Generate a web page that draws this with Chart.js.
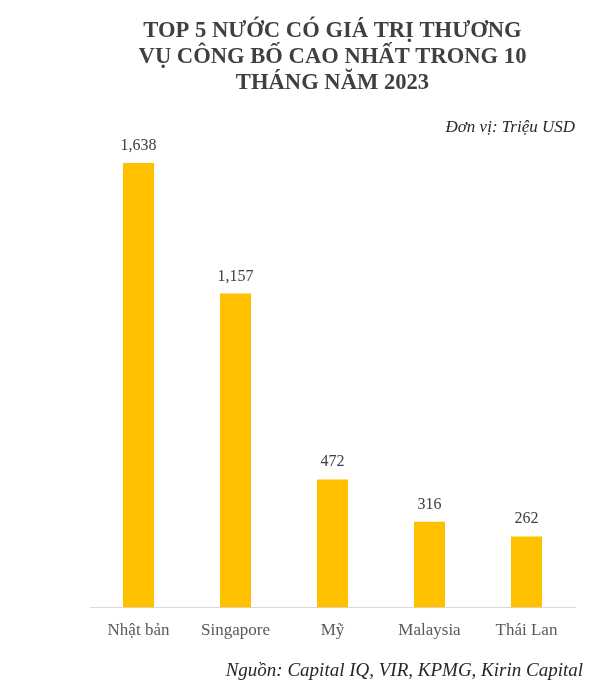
<!DOCTYPE html>
<html>
<head>
<meta charset="utf-8">
<script src="https://cdn.jsdelivr.net/npm/chart.js@4/dist/chart.umd.min.js"></script>
<style>
  html, body { margin: 0; padding: 0; background: #fff; }
  #wrap { width: 600px; height: 698px; position: relative; }
</style>
</head>
<body>
<div id="wrap"><canvas id="chart"></canvas></div>
<script>
const countries = ['Nhật bản', 'Singapore', 'Mỹ', 'Malaysia', 'Thái Lan'];
const dealValues = [1638, 1157, 472, 316, 262];
const titleLines = ['TOP 5 NƯỚC CÓ GIÁ TRỊ THƯƠNG', 'VỤ CÔNG BỐ CAO NHẤT TRONG 10', 'THÁNG NĂM 2023'];
const unitText = 'Đơn vị: Triệu USD';
const sourceText = 'Nguồn: Capital IQ, VIR, KPMG, Kirin Capital';

const serif = '"Liberation Serif", "DejaVu Serif", serif';

// value labels above each bar
const valueLabels = {
  id: 'valueLabels',
  afterDatasetsDraw(chart) {
    const ctx = chart.ctx;
    const meta = chart.getDatasetMeta(0);
    ctx.save();
    ctx.font = '16px ' + serif;
    ctx.fillStyle = '#404040';
    ctx.textAlign = 'center';
    ctx.textBaseline = 'alphabetic';
    meta.data.forEach((bar, i) => {
      ctx.fillText(dealValues[i].toLocaleString('en-US'), bar.x, bar.y - 13);
    });
    ctx.restore();
  }
};

// source note at the bottom
const sourceNote = {
  id: 'sourceNote',
  afterDraw(chart) {
    const ctx = chart.ctx;
    ctx.save();
    ctx.font = 'italic 19px ' + serif;
    ctx.fillStyle = '#262626';
    ctx.textAlign = 'right';
    ctx.textBaseline = 'middle';
    ctx.fillText(sourceText, 583, 671);
    ctx.restore();
  }
};

new Chart(document.getElementById('chart'), {
  type: 'bar',
  data: {
    labels: countries,
    datasets: [{
      data: dealValues,
      backgroundColor: '#FFC000',
      categoryPercentage: 1,
      barPercentage: 0.32
    }]
  },
  options: {
    responsive: true,
    maintainAspectRatio: false,
    animation: false,
    layout: { padding: { left: 90, right: 25, top: 18, bottom: 44 } },
    plugins: {
      legend: { display: false },
      tooltip: { enabled: false },
      title: {
        display: true,
        text: titleLines,
        color: '#404040',
        font: { family: serif, size: 22.6, weight: 'bold', lineHeight: 1.15 },
        padding: { top: 0, bottom: 21 }
      },
      subtitle: {
        display: true,
        text: unitText,
        align: 'end',
        color: '#262626',
        font: { family: serif, size: 17, style: 'italic' },
        padding: { top: 0, bottom: 2 }
      }
    },
    scales: {
      x: {
        grid: { display: false, drawTicks: false },
        border: { color: '#d9d9d9', width: 1 },
        ticks: {
          color: '#595959',
          padding: 13,
          font: { family: serif, size: 17 }
        }
      },
      y: {
        display: false,
        min: 0,
        max: 1725
      }
    }
  },
  plugins: [valueLabels, sourceNote]
});
</script>
</body>
</html>
